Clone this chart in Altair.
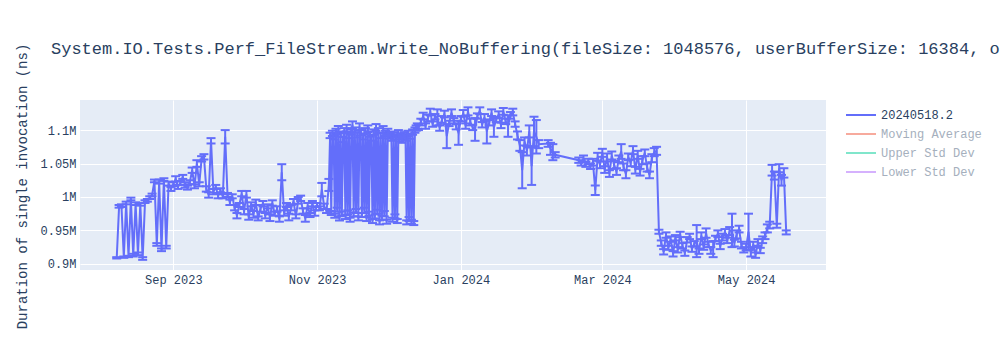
import altair as alt
import pandas as pd

# Runs: (first, last, spacing) — one run per day, two per day through the Nov–Dec stretch
run_spans = [
    ("2023-08-08", "2023-11-05", "D"),
    ("2023-11-06", "2023-12-13 12:00", "12h"),
    ("2023-12-14", "2024-02-03", "D"),
    ("2024-02-07", "2024-02-10", "D"),
    ("2024-02-20", "2024-05-18", "D"),
]

# Mean duration per run, in thousands of ns
mean_k = [
    # Aug 2023
    909, 986, 987, 910, 991, 911, 997, 913, 990, 915, 989, 908, 993, 995, 999, 1003, 1024, 929, 1023, 921, 1026, 925, 1020, 1012,
    # Sep 2023
    1019, 1027, 1015, 1021, 1030, 1018, 1014, 1022, 1040, 1016, 1050, 1019, 1057, 1060, 1012, 1003, 1084, 1008, 1015, 1002,
    1010, 1001, 1090, 1003, 992, 1001, 984, 972, 988, 1005,
    # Oct 2023
    978, 1004, 970, 989, 974, 992, 968, 983, 990, 972, 986, 969, 991, 975, 982, 967, 1037, 976, 988, 970,
    984, 993, 971, 995, 998, 979, 968, 987, 973, 990, 976,
    # Nov 1-5
    988, 983, 1011, 986, 979,
    # Nov 6 - Dec 13, twice a day
    1018, 1092, 976, 1095, 1089, 972, 1098, 981, 1101, 968, 1094, 975, 1086, 1099, 970, 1103, 977, 1092, 966, 1097,
    1108, 974, 1100, 979, 1093, 968, 1105, 1096, 973, 1090, 980, 1099, 967, 1102, 975, 1094, 1088, 964, 1097, 971,
    1104, 978, 1099, 962, 1092, 969, 1101, 975, 1095, 963,
    1098, 1091, 1094, 1088, 966, 1093, 971, 1090, 964, 1096, 1087, 1092, 1085, 1090, 1093, 1088, 962, 1095, 967, 1091,
    963, 1097, 961, 1100, 1103, 1106,
    # Dec 14-31
    1104, 1112, 1121, 1106, 1118, 1127, 1109, 1120, 1119, 1103, 1116, 1124, 1091, 1110, 1126, 1114, 1105, 1096,
    # Jan 2024
    1117, 1125, 1106, 1128, 1112, 1104, 1101, 1121, 1129, 1108, 1119, 1098, 1111, 1126, 1104, 1116, 1123, 1107, 1128, 1113,
    1106, 1122, 1127, 1109, 1092, 1077, 1040, 1083, 1069, 1098, 1046,
    # Feb 1-3, 7-10, 20-29
    1098, 1090, 1079,
    1080, 1072, 1067, 1063,
    1055, 1051, 1057, 1049, 1053, 1046, 1052, 1010, 1060, 1048,
    # Mar 2024
    1066, 1041, 1059, 1035, 1062, 1048, 1038, 1057, 1068, 1045, 1034, 1060, 1051, 1070, 1040, 1063, 1037, 1055, 1066, 1044,
    1033, 1058, 1067, 1069, 948, 931, 918, 943, 924, 937, 915,
    # Apr 2024
    939, 921, 944, 927, 916, 936, 941, 922, 930, 934, 919, 942, 925, 946, 929, 920, 922, 938, 945, 926,
    940, 947, 935, 949, 950, 931, 944, 952, 928, 921,
    # May 1-18
    925, 948, 916, 929, 913, 932, 920, 936, 942, 953, 958, 1040, 1032, 957, 1043, 1025, 1036, 947,
]

# Error (half-width of the error bar) per run, in thousands of ns
spread_k = [
    # Aug 2023
    1, 2, 2, 1, 2, 1, 2, 2, 2, 2, 2, 2, 2, 2, 2, 2, 2, 2, 3, 2, 2, 2, 3, 3,
    # Sep 2023
    3, 4, 3, 3, 3, 4, 3, 3, 4, 3, 5, 3, 4, 4, 4, 4, 4, 4, 3, 4,
    3, 3, 10, 3, 4, 3, 4, 4, 3, 4,
    # Oct 2023
    4, 5, 4, 3, 5, 4, 3, 5, 4, 4, 3, 5, 4, 3, 4, 4, 12, 4, 3, 5,
    4, 4, 3, 5, 4, 4, 5, 4, 3, 4, 4,
    # Nov 1-5
    3, 3, 10, 4, 3,
    # Nov 6 - Dec 13, twice a day
    9, 4, 3, 4, 3, 3, 4, 3, 5, 3, 4, 3, 4, 4, 3, 5, 3, 4, 3, 4,
    5, 3, 4, 3, 4, 3, 5, 4, 3, 4, 4, 4, 3, 5, 3, 4, 4, 3, 4, 3,
    5, 3, 4, 3, 4, 3, 5, 4, 4, 3,
    4, 4, 4, 4, 3, 4, 3, 4, 3, 4, 4, 3, 4, 4, 4, 4, 3, 4, 3, 4,
    3, 4, 3, 4, 4, 4,
    # Dec 14-31
    4, 5, 5, 4, 5, 5, 4, 4, 12, 4, 5, 5, 18, 4, 5, 4, 4, 18,
    # Jan 2024
    4, 5, 4, 6, 5, 4, 17, 4, 5, 4, 5, 18, 4, 5, 14, 4, 5, 4, 5, 4,
    16, 5, 5, 4, 6, 8, 27, 6, 7, 9, 28,
    # Feb 1-3, 7-10, 20-29
    22, 25, 6,
    5, 9, 12, 4,
    4, 4, 5, 4, 4, 4, 5, 7, 6, 5,
    # Mar 2024
    6, 5, 6, 5, 6, 6, 5, 5, 11, 5, 6, 5, 5, 6, 5, 6, 5, 6, 5, 6,
    5, 6, 6, 6, 3, 4, 4, 4, 3, 4, 4,
    # Apr 2024
    4, 4, 4, 4, 4, 4, 4, 4, 4, 24, 4, 5, 4, 7, 4, 5, 12, 4, 5, 4,
    5, 5, 4, 6, 25, 5, 6, 5, 5, 4,
    # May 1-18
    5, 27, 5, 4, 4, 5, 4, 5, 5, 6, 5, 8, 6, 3, 6, 8, 7, 3,
]

series_names = ["20240518.2", "Moving Average", "Upper Std Dev", "Lower Std Dev"]
series_colors = ["#636efa", "#f7aa9d", "#80e6cb", "#d5b1fd"]
y_ticks = [900000, 950000, 1000000, 1050000, 1100000]
x_ticks = [(2023, 9), (2023, 11), (2024, 1), (2024, 3), (2024, 5)]

title_text = ("System.IO.Tests.Perf_FileStream.Write_NoBuffering"
              "(fileSize: 1048576, userBufferSize: 16384, options: None)")

MONO = "Courier New, Liberation Mono, monospace"
INK = "#2a3f5f"
BLUE = "#636efa"

dates = pd.concat(
    [pd.Series(pd.date_range(a, b, freq=f)) for a, b, f in run_spans], ignore_index=True
)
assert len(dates) == len(mean_k) == len(spread_k), (len(dates), len(mean_k), len(spread_k))

df = pd.DataFrame({
    "date": dates,
    "ns": [v * 1000 for v in mean_k],
    "err": [e * 1000 for e in spread_k],
})
df["lo"] = df["ns"] - df["err"]
df["hi"] = df["ns"] + df["err"]
df["series"] = series_names[0]

x_scale = alt.Scale(
    domain=[alt.DateTime(year=2023, month=7, date=23, hours=10),
            alt.DateTime(year=2024, month=6, date=3, hours=21)],
    nice=False,
)
y_scale = alt.Scale(domain=[890800, 1145000], nice=False, zero=False)

x_enc = alt.X(
    "date:T", scale=x_scale,
    axis=alt.Axis(
        values=[alt.DateTime(year=y, month=m, date=1) for y, m in x_ticks],
        format="%b %Y", title=None, labelPadding=4, labelFlush=False, labelOverlap=False,
    ),
)
y_axis = alt.Axis(
    values=y_ticks,
    labelExpr="format(datum.value / 1e6, '~g') + 'M'",
    title="Duration of single invocation (ns)",
    titleX=-58, titleY=86, titleAngle=270, titleAlign="center", titleBaseline="middle",
    labelPadding=4,
)

base = alt.Chart(df)

line = base.mark_line(strokeWidth=2).encode(
    x=x_enc,
    y=alt.Y("ns:Q", scale=y_scale, axis=y_axis),
    color=alt.Color(
        "series:N",
        scale=alt.Scale(domain=series_names, range=series_colors),
        legend=alt.Legend(
            title=None, orient="none", legendX=775, legendY=9,
            symbolType="M-3,0H3", symbolSize=100, symbolStrokeWidth=2,
            labelFont=MONO, labelFontSize=12, labelOffset=14,
            labelColor={"expr": "datum.label == '20240518.2' ? '#2a3f5f' : '#a5afbd'"},
            rowPadding=7, padding=0,
        ),
    ),
)

bars = base.mark_rule(strokeWidth=2, color=BLUE).encode(
    x="date:T", y=alt.Y("lo:Q", scale=y_scale), y2="hi:Q"
)
cap_lo = base.mark_tick(orient="horizontal", size=9, thickness=2, color=BLUE, opacity=1).encode(
    x="date:T", y=alt.Y("lo:Q", scale=y_scale)
)
cap_hi = base.mark_tick(orient="horizontal", size=9, thickness=2, color=BLUE, opacity=1).encode(
    x="date:T", y=alt.Y("hi:Q", scale=y_scale)
)

chart = (
    alt.layer(bars, cap_lo, cap_hi, line)
    .properties(
        width=746, height=170,
        autosize="none",
        padding={"left": 80, "top": 100, "right": 174, "bottom": 80},
        background="white",
        title=alt.TitleParams(
            title_text, anchor="start", dx=36, offset=-28, baseline="alphabetic",
            font=MONO, fontSize=17, fontWeight="normal", color=INK,
        ),
    )
    .configure_view(fill="#E5ECF6", stroke=None)
    .configure_axis(
        grid=True, gridColor="white", gridWidth=1, domain=False, ticks=False,
        labelFont=MONO, labelFontSize=12, labelColor=INK,
        titleFont=MONO, titleFontSize=14, titleColor=INK, titleFontWeight="normal",
    )
)

chart.save("out.html", embed_options={"renderer": "svg", "actions": False})
